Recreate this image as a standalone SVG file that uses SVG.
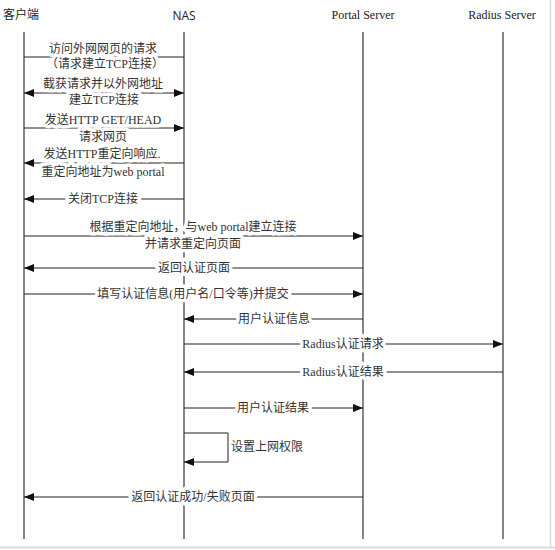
<svg xmlns="http://www.w3.org/2000/svg" width="555" height="550" viewBox="0 0 555 550">
<defs>
<marker id="ah" viewBox="0 0 10 8" refX="10" refY="4" markerWidth="10" markerHeight="8" markerUnits="userSpaceOnUse" orient="auto-start-reverse">
<path d="M0,0 L10,4 L0,8 z" fill="#111"/>
</marker>
<style>
.life{stroke:#444;stroke-width:1.3;fill:none}
.msg{stroke:#222;stroke-width:1;fill:none}
.lbl{font-family:"Liberation Serif","Noto Sans CJK SC",serif;font-size:12px;fill:#333;text-anchor:middle;dominant-baseline:central;stroke:#fff;stroke-width:7;paint-order:stroke;stroke-linejoin:round}
.note{font-family:"Liberation Serif","Noto Sans CJK SC",serif;font-size:12px;fill:#333;dominant-baseline:central}
.hdr{font-family:"Liberation Serif","Noto Sans CJK SC",serif;font-size:12px;fill:#222;text-anchor:middle;dominant-baseline:central}
</style>
</defs>
<rect width="555" height="550" fill="#fff"/>
<line x1="0" y1="547.5" x2="555" y2="547.5" stroke="#dcdcdc" stroke-width="2"/>
<line x1="550.5" y1="0" x2="550.5" y2="548" stroke="#dcdcdc" stroke-width="1.5"/>

<g id="client"><text class="hdr" x="21" y="15">客户端</text><line class="life" x1="24" y1="32" x2="24" y2="539"/></g>
<g id="nas"><text class="hdr" x="184" y="15" style="font-family:'Open Sans','Liberation Sans',sans-serif">NAS</text><line class="life" x1="184" y1="32" x2="184" y2="539"/></g>
<g id="portal"><text class="hdr" x="363" y="15">Portal Server</text><line class="life" x1="363" y1="32" x2="363" y2="539"/></g>
<g id="radius"><text class="hdr" x="502" y="15">Radius Server</text><line class="life" x1="503" y1="32" x2="503" y2="539"/></g>

<g id="connectors">
<line class="msg" x1="24" y1="57" x2="184" y2="57"/>
<line class="msg" x1="24" y1="93" x2="184" y2="93" marker-start="url(#ah)" marker-end="url(#ah)"/>
<line class="msg" x1="24" y1="128" x2="184" y2="128" marker-end="url(#ah)"/>
<line class="msg" x1="184" y1="163" x2="24" y2="163" marker-end="url(#ah)"/>
<line class="msg" x1="184" y1="199" x2="24" y2="199" marker-end="url(#ah)"/>
<line class="msg" x1="24" y1="236" x2="363" y2="236" marker-end="url(#ah)"/>
<line class="msg" x1="363" y1="268" x2="24" y2="268" marker-end="url(#ah)"/>
<line class="msg" x1="24" y1="294" x2="363" y2="294" marker-end="url(#ah)"/>
<line class="msg" x1="363" y1="319" x2="184" y2="319" marker-end="url(#ah)"/>
<line class="msg" x1="184" y1="344" x2="503" y2="344" marker-end="url(#ah)"/>
<line class="msg" x1="503" y1="372" x2="184" y2="372" marker-end="url(#ah)"/>
<line class="msg" x1="184" y1="408" x2="363" y2="408" marker-end="url(#ah)"/>
<polyline class="msg" points="184,433 228,433 228,462 184,462" marker-end="url(#ah)"/>
<line class="msg" x1="363" y1="497" x2="24" y2="497" marker-end="url(#ah)"/>

<text class="lbl" x="103" y="49">访问外网网页的请求</text>
<text class="lbl" x="105" y="64">（请求建立TCP连接）</text>
<text class="lbl" x="103" y="84">截获请求并以外网地址</text>
<text class="lbl" x="104" y="100">建立TCP连接</text>
<text class="lbl" x="103" y="120">发送HTTP GET/HEAD</text>
<text class="lbl" x="103" y="137">请求网页</text>
<text class="lbl" x="102" y="154">发送HTTP重定向响应.</text>
<text class="lbl" x="103" y="172">重定向地址为web portal</text>
<text class="lbl" x="103" y="199">关闭TCP连接</text>
<text class="lbl" x="193" y="227">根据重定向地址，与web portal建立连接</text>
<text class="lbl" x="193" y="244">并请求重定向页面</text>
<text class="lbl" x="194" y="268">返回认证页面</text>
<text class="lbl" x="193" y="294">填写认证信息(用户名/口令等)并提交</text>
<text class="lbl" x="274" y="319">用户认证信息</text>
<text class="lbl" x="343" y="344">Radius认证请求</text>
<text class="lbl" x="343" y="372">Radius认证结果</text>
<text class="lbl" x="273" y="408">用户认证结果</text>
<text class="note" x="231" y="447">设置上网权限</text>
<text class="lbl" x="193" y="497">返回认证成功/失败页面</text>
</g>
</svg>
